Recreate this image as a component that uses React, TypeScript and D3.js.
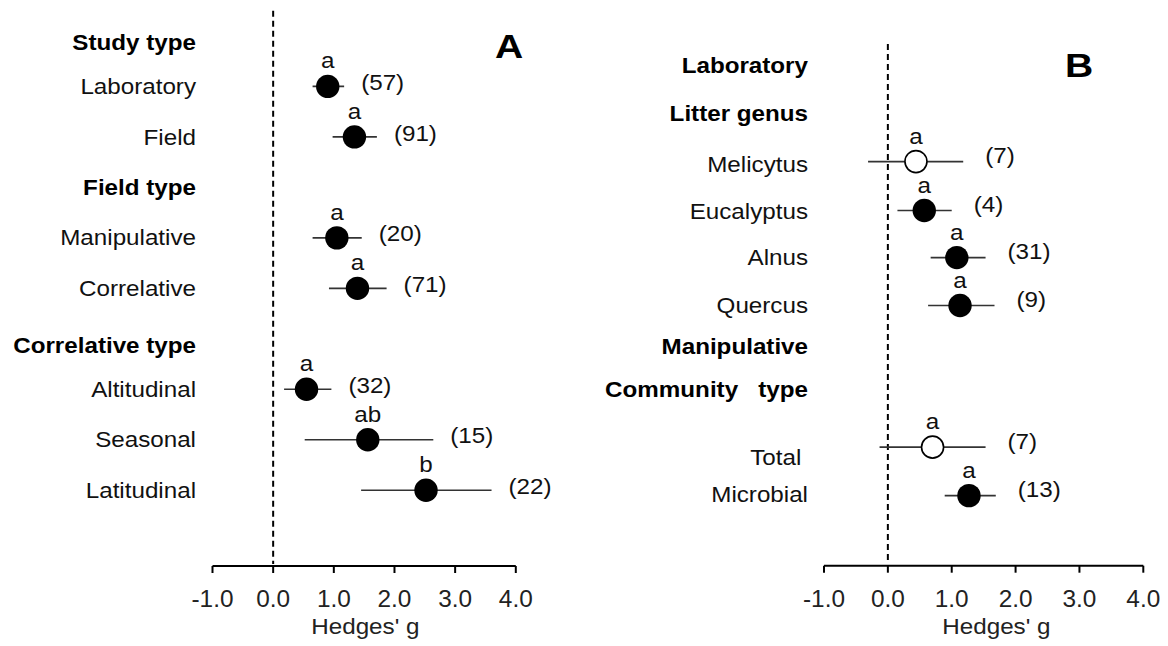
import * as d3 from 'd3';

const W = 1168;
const H = 646;
const FONT = 'Arial, "Liberation Sans", Helvetica, sans-serif';
const SX = 1.1; // the source text is a little wide

// ---- Panel A ----
const aHeadings = ['Study type', 'Field type', 'Correlative type'];
const aHeadingPos = [0.13, 3, 6.12];
const aLabels = ['Laboratory', 'Field', 'Manipulative', 'Correlative', 'Altitudinal', 'Seasonal', 'Latitudinal'];
const aLabelPos = [1, 2, 4, 5, 7, 8, 9];
const aRowPos = [1, 2, 4, 5, 7, 8, 9];
const aMean = [0.9, 1.34, 1.05, 1.39, 0.55, 1.56, 2.52];
const aLow = [0.65, 0.98, 0.65, 0.92, 0.18, 0.52, 1.45];
const aHigh = [1.17, 1.71, 1.46, 1.87, 0.96, 2.64, 3.6];
const aN = [57, 91, 20, 71, 32, 15, 22];
const aLetters = ['a', 'a', 'a', 'a', 'a', 'ab', 'b'];
const aOpen = [false, false, false, false, false, false, false];

// ---- Panel B ----
const bHeadings = ['Laboratory', 'Litter genus', 'Manipulative', 'Community   type'];
const bHeadingPos = [0, 1, 5.86, 6.74];
const bLabels = ['Melicytus', 'Eucalyptus', 'Alnus', 'Quercus', 'Total ', 'Microbial'];
const bLabelPos = [2.05, 3.04, 4, 5, 8.16, 8.93];
const bRowPos = [2, 3.02, 4, 5, 7.95, 8.96];
const bMean = [0.44, 0.57, 1.08, 1.13, 0.7, 1.27];
const bLow = [-0.31, 0.15, 0.67, 0.63, -0.13, 0.89];
const bHigh = [1.18, 1.0, 1.53, 1.67, 1.53, 1.69];
const bN = [7, 4, 31, 9, 7, 13];
const bLetters = ['a', 'a', 'a', 'a', 'a', 'a'];
const bOpen = [true, false, false, false, true, false];

const xTicks = [-1, 0, 1, 2, 3, 4];
const xTitle = "Hedges' g";

const tr = (x: number, y: number, s = SX) => `translate(${x},${y}) scale(${s},1)`;

interface PanelProps {
  tag: string;
  tagX: number;
  tagY: number;
  xRange: [number, number];
  yDomain: [number, number];
  yRange: [number, number];
  labelRight: number;
  headings: string[];
  headingPos: number[];
  labels: string[];
  labelPos: number[];
  rowPos: number[];
  mean: number[];
  low: number[];
  high: number[];
  n: number[];
  letters: string[];
  open: boolean[];
  countGap: number;
  countDy: number;
  titleAt: number;
}

const Panel = (p: PanelProps) => {
  const x = d3.scaleLinear().domain([-1, 4]).range(p.xRange);
  const y = d3.scaleLinear().domain(p.yDomain).range(p.yRange);
  const axisY = y(p.yDomain[1]);

  return (
    <g fontFamily={FONT} fill="#000">
      {/* zero line */}
      <line
        x1={x(0)}
        x2={x(0)}
        y1={y(p.yDomain[0])}
        y2={axisY - 2}
        stroke="#000"
        strokeWidth={2}
        strokeDasharray="6,4"
      />

      {/* axis */}
      <line x1={x(-1)} x2={x(4)} y1={axisY} y2={axisY} stroke="#000" strokeWidth={2} />
      {xTicks.map((t) => (
        <g key={t}>
          <line x1={x(t)} x2={x(t)} y1={axisY} y2={axisY + 7} stroke="#000" strokeWidth={2} />
          <text transform={tr(x(t), 607, 1.06)} fontSize={23} textAnchor="middle" fill="#222">
            {t.toFixed(1)}
          </text>
        </g>
      ))}
      <text transform={tr(x(p.titleAt), 634)} fontSize={22} textAnchor="middle" fill="#222">
        {xTitle}
      </text>

      {/* headings */}
      {p.headings.map((h, i) => (
        <text
          key={h}
          transform={tr(p.labelRight, y(p.headingPos[i]))}
          fontSize={22}
          fontWeight="bold"
          textAnchor="end"
          dominantBaseline="central"
          style={{ whiteSpace: 'pre' }}
        >
          {h}
        </text>
      ))}

      {/* row labels */}
      {p.labels.map((l, i) => (
        <text
          key={l}
          transform={tr(p.labelRight, y(p.labelPos[i]))}
          fontSize={22}
          textAnchor="end"
          dominantBaseline="central"
          fill="#111"
          style={{ whiteSpace: 'pre' }}
        >
          {l}
        </text>
      ))}

      {/* effect sizes */}
      {p.mean.map((m, i) => {
        const cy = y(p.rowPos[i]);
        return (
          <g key={i}>
            <line x1={x(p.low[i])} x2={x(p.high[i])} y1={cy} y2={cy} stroke="#333" strokeWidth={1.6} />
            <circle
              cx={x(m)}
              cy={cy}
              r={p.open[i] ? 11 : 11.7}
              fill={p.open[i] ? '#fff' : '#000'}
              stroke="#000"
              strokeWidth={p.open[i] ? 1.6 : 0}
            />
            <text transform={tr(x(m), cy - 18)} fontSize={22} textAnchor="middle" fill="#111">
              {p.letters[i]}
            </text>
            <text
              transform={tr(x(p.high[i]) + p.countGap, cy + p.countDy)}
              fontSize={22}
              dominantBaseline="central"
              fill="#111"
            >
              {`(${p.n[i]})`}
            </text>
          </g>
        );
      })}

      <text transform={tr(p.tagX, p.tagY, 1.15)} fontSize={34} fontWeight="bold" textAnchor="middle">
        {p.tag}
      </text>
    </g>
  );
};

export default function App() {
  return (
    <svg
      width={W}
      height={H}
      viewBox={`0 0 ${W} ${H}`}
      style={{ position: 'absolute', left: 0, top: 0, background: '#fff' }}
    >
      <rect width={W} height={H} fill="#fff" />
      <Panel
        tag="A"
        tagX={509}
        tagY={58}
        xRange={[212.5, 515.8]}
        yDomain={[-0.5, 10.5]}
        yRange={[10.7, 566]}
        labelRight={196}
        headings={aHeadings}
        headingPos={aHeadingPos}
        labels={aLabels}
        labelPos={aLabelPos}
        rowPos={aRowPos}
        mean={aMean}
        low={aLow}
        high={aHigh}
        n={aN}
        letters={aLetters}
        open={aOpen}
        countGap={17}
        countDy={-4}
        titleAt={1.52}
      />
      <Panel
        tag="B"
        tagX={1079}
        tagY={77}
        xRange={[824, 1143.3]}
        yDomain={[-0.45, 10.42]}
        yRange={[44, 565.7]}
        labelRight={808}
        headings={bHeadings}
        headingPos={bHeadingPos}
        labels={bLabels}
        labelPos={bLabelPos}
        rowPos={bRowPos}
        mean={bMean}
        low={bLow}
        high={bHigh}
        n={bN}
        letters={bLetters}
        open={bOpen}
        countGap={22}
        countDy={-6}
        titleAt={1.7}
      />
    </svg>
  );
}
